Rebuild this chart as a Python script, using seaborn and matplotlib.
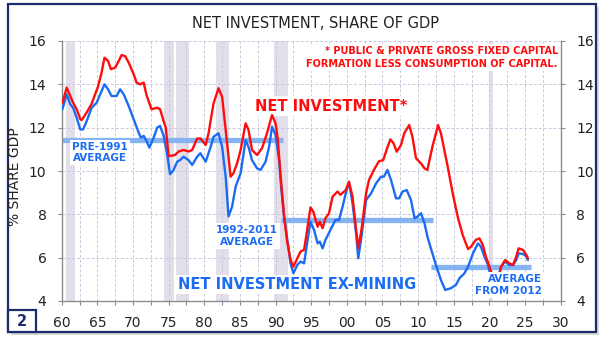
import matplotlib
matplotlib.use("Agg")
import matplotlib.pyplot as plt
from matplotlib.patches import Rectangle
from matplotlib.ticker import MultipleLocator, FixedLocator
import seaborn as sns
import pandas as pd

# ---------------- data ----------------
red_years = [1960.1, 1960.7, 1961.2, 1961.6, 1962.1, 1962.6, 1962.8, 1963.5, 1964.2, 1964.7,
             1965.1, 1965.6, 1966.0, 1966.5, 1966.9, 1967.5, 1968.0, 1968.4, 1968.9, 1969.4,
             1970.1, 1970.5, 1971.0, 1971.5, 1971.9, 1972.6, 1973.4, 1973.8, 1974.3, 1974.6,
             1975.0, 1975.9, 1976.4, 1977.1, 1977.8, 1978.3, 1979.0, 1979.45, 1980.2, 1980.6,
             1981.3, 1982.0, 1982.5, 1983.0, 1983.7, 1984.1, 1984.6, 1985.1, 1985.8, 1986.2,
             1986.7, 1987.4, 1988.1, 1988.8, 1989.5, 1990.0, 1990.3, 1990.7, 1991.2, 1991.6,
             1992.1, 1992.5, 1993.05, 1993.5, 1994.0, 1994.5, 1994.9, 1995.3, 1995.9, 1996.2,
             1996.6, 1997.0, 1997.5, 1998.0, 1998.7, 1999.1, 1999.85, 2000.3, 2000.8, 2001.3,
             2001.6, 2002.05, 2002.7, 2003.1, 2003.8, 2004.5, 2005.1, 2005.6, 2006.1, 2006.55,
             2007.0, 2007.6, 2008.05, 2008.75, 2009.2, 2009.7, 2010.4, 2010.9, 2011.3, 2012.0,
             2012.8, 2013.2, 2014.15, 2014.85, 2015.55, 2016.25, 2017.0, 2017.4, 2018.1, 2018.6,
             2019.07, 2019.5, 2020.0, 2020.5, 2020.8, 2021.2, 2021.65, 2022.2, 2022.8, 2023.3,
             2023.76, 2024.1, 2024.7, 2025.2, 2025.4]
red_vals = [13.15, 13.85, 13.46, 13.15, 12.85, 12.4, 12.35, 12.7, 13.1, 13.55,
            13.9, 14.55, 15.23, 15.08, 14.7, 14.77, 15.08, 15.35, 15.3, 15.0,
            14.46, 14.08, 14.0, 14.08, 13.5, 12.85, 12.92, 12.85, 12.3, 12.0,
            10.68, 10.74, 10.9, 10.97, 10.9, 10.97, 11.5, 11.5, 11.2, 11.74,
            13.12, 13.82, 13.43, 11.9, 9.74, 9.9, 10.35, 10.97, 12.2, 11.9,
            10.97, 10.74, 11.05, 11.74, 12.58, 12.2, 11.5, 9.8, 7.9, 6.8,
            5.9, 5.58, 5.97, 6.28, 6.36, 7.43, 8.32, 8.12, 7.43, 7.66,
            7.36, 7.82, 8.05, 8.82, 9.05, 8.9, 9.12, 9.5, 8.82, 7.28,
            6.43, 7.28, 8.97, 9.58, 10.05, 10.45, 10.5, 11.0, 11.46, 11.28,
            10.89, 11.2, 11.74, 12.12, 11.58, 10.59, 10.35, 10.12, 10.05, 11.12,
            12.12, 11.74, 10.2, 8.97, 7.89, 7.05, 6.4, 6.5, 6.82, 6.89,
            6.59, 6.05, 5.59, 5.05, 4.68, 4.97, 5.59, 5.89, 5.74, 5.66,
            6.05, 6.43, 6.36, 6.12, 5.97]

blue_years = [1960.1, 1960.7, 1961.2, 1961.6, 1962.1, 1962.6, 1963.0, 1963.5, 1964.2, 1964.9,
              1965.4, 1966.0, 1966.5, 1967.0, 1967.7, 1968.2, 1968.7, 1969.4, 1970.1, 1970.8,
              1971.1, 1971.5, 1971.9, 1972.3, 1972.9, 1973.4, 1973.8, 1974.3, 1974.8, 1975.2,
              1975.7, 1976.2, 1976.6, 1977.1, 1977.8, 1978.3, 1979.0, 1979.45, 1980.2, 1980.9,
              1981.3, 1982.0, 1982.5, 1983.0, 1983.4, 1983.9, 1984.4, 1985.1, 1985.8, 1986.2,
              1986.7, 1987.4, 1987.9, 1988.6, 1989.1, 1989.5, 1990.0, 1990.5, 1990.8, 1991.2,
              1991.6, 1992.1, 1992.5, 1993.05, 1993.5, 1994.0, 1994.5, 1994.9, 1995.4, 1995.9,
              1996.2, 1996.6, 1997.0, 1997.7, 1998.4, 1998.9, 1999.4, 1999.85, 2000.3, 2000.8,
              2001.3, 2001.6, 2002.05, 2002.7, 2003.4, 2004.1, 2004.8, 2005.2, 2005.7, 2006.2,
              2006.9, 2007.35, 2007.8, 2008.4, 2009.0, 2009.5, 2009.9, 2010.4, 2010.9, 2011.3,
              2012.0, 2012.5, 2013.2, 2013.8, 2014.6, 2015.3, 2015.8, 2016.5, 2017.0, 2017.7,
              2018.4, 2018.8, 2019.3, 2019.8, 2020.2, 2020.7, 2021.2, 2021.65, 2022.2, 2022.8,
              2023.3, 2023.76, 2024.1, 2024.7, 2025.2, 2025.4]
blue_vals = [12.85, 13.54, 13.08, 12.92, 12.46, 11.92, 11.92, 12.3, 12.92, 13.15,
             13.54, 14.0, 13.77, 13.46, 13.46, 13.77, 13.54, 13.0, 12.38, 11.77,
             11.54, 11.62, 11.38, 11.08, 11.54, 12.0, 12.08, 11.62, 10.77, 9.85,
             10.05, 10.43, 10.5, 10.66, 10.5, 10.28, 10.66, 10.82, 10.43, 11.12,
             11.58, 11.74, 11.12, 9.74, 7.9, 8.35, 9.28, 9.9, 11.43, 11.12,
             10.5, 10.12, 10.05, 10.43, 11.12, 12.05, 11.66, 10.5, 9.2, 7.9,
             6.97, 5.74, 5.28, 5.66, 5.82, 5.74, 6.82, 7.66, 7.28, 6.66,
             6.74, 6.43, 6.82, 7.28, 7.74, 7.74, 8.35, 8.97, 9.5, 8.5,
             7.12, 5.97, 6.97, 8.66, 8.97, 9.43, 9.74, 9.74, 10.05, 9.58,
             8.74, 8.74, 9.05, 9.12, 8.66, 7.82, 7.89, 8.05, 7.58, 6.97,
             6.2, 5.66, 4.97, 4.51, 4.59, 4.74, 5.05, 5.28, 5.59, 6.2,
             6.66, 6.51, 6.05, 5.66, 5.12, 4.74, 5.05, 5.59, 5.82, 5.66,
             5.66, 5.89, 6.2, 6.17, 6.05, 5.89]

avg_start = [1960.0, 1990.7, 2011.8]
avg_end = [1991.1, 2012.1, 2025.8]
avg_vals = [11.45, 7.75, 5.58]

recession_start = [1960.6, 1974.3, 1976.05, 1981.65, 1989.85, 2020.0]
recession_end = [1961.85, 1975.7, 1977.9, 1983.4, 1991.7, 2020.5]

x_ticks = [1960, 1965, 1970, 1975, 1980, 1985, 1990, 1995, 2000, 2005, 2010, 2015, 2020, 2025, 2030]
x_labels = ["60", "65", "70", "75", "80", "85", "90", "95", "00", "05", "10", "15", "20", "25", "30"]
y_ticks = [4, 6, 8, 10, 12, 14, 16]

red_df = pd.DataFrame({"year": red_years, "value": red_vals})
blue_df = pd.DataFrame({"year": blue_years, "value": blue_vals})

# ---------------- style ----------------
sns.set_theme(style="white")
plt.rcParams["font.family"] = ["DejaVu Sans"]

RED = "#ff0d0d"
BLUE = "#1c6cf2"
AVG = "#86b3f2"
BAND = "#e3dfea"
GRID = "#cac7de"
NAVY = "#1d2c6e"
TXT = "#222222"

fig = plt.figure(figsize=(6.02, 3.38), dpi=100)
fig.patch.set_facecolor("white")
ax = fig.add_axes([61.7 / 602, 1 - 301 / 338, (560.7 - 61.7) / 602, (301 - 41) / 338])
ax.set_facecolor("white")

# recession bands
for s, e in zip(recession_start, recession_end):
    ax.axvspan(s, e, color=BAND, lw=0, zorder=0.5)

# grid
ax.set_xlim(1960, 2030)
ax.set_ylim(4, 16)
ax.xaxis.set_major_locator(FixedLocator(x_ticks))
ax.xaxis.set_minor_locator(MultipleLocator(2.5))
ax.set_xticks(x_ticks)
ax.set_xticklabels(x_labels)
ax.set_yticks(y_ticks)
ax.grid(False)
for gx in [1960 + 2.5 * i for i in range(1, 28)]:
    ax.axvline(gx, color=GRID, lw=0.7, ls=(0, (3, 2)), zorder=0.8)
for gy in y_ticks[1:]:
    ax.axhline(gy, color=GRID, lw=0.7, ls=(0, (3, 2)), zorder=0.8)

# average lines
ax.hlines(avg_vals, avg_start, avg_end, colors=AVG, lw=3.8, zorder=2, capstyle="butt")

# series
sns.lineplot(data=red_df, x="year", y="value", color=RED, lw=1.7, ax=ax, zorder=4)
sns.lineplot(data=blue_df, x="year", y="value", color=BLUE, lw=1.7, ax=ax, zorder=3)

ax.set_xlabel("")
ax.set_ylabel("% SHARE GDP", fontsize=10, color=TXT, labelpad=4)
ax.yaxis.set_label_coords(-0.079, 0.48)

# spines/ticks
for side in ["left", "right", "bottom"]:
    ax.spines[side].set_visible(True)
    ax.spines[side].set_color("#8c8c8c")
    ax.spines[side].set_linewidth(1.0)
ax.spines["top"].set_visible(False)
ax.tick_params(axis="both", which="both", direction="out", length=3, width=0.8,
               color="#8c8c8c", labelsize=10, labelcolor=TXT, pad=8)
ax.tick_params(axis="y", left=True, right=True, labelleft=True, labelright=True)
ax.tick_params(axis="x", which="both", bottom=True)

# title
fig.text(315 / 602, 1 - 23 / 338, "NET INVESTMENT, SHARE OF GDP", ha="center", va="center",
         fontsize=10.5, color=TXT)

box = dict(facecolor="white", edgecolor="none", pad=1.5)
ax.text(2029.6, 15.25, "* PUBLIC & PRIVATE GROSS FIXED CAPITAL\nFORMATION LESS CONSUMPTION OF CAPITAL.",
        ha="right", va="center", fontsize=7, fontweight="bold", color=RED,
        linespacing=1.35, bbox=box, zorder=2.5)
ax.text(1997.8, 13.0, "NET INVESTMENT*", ha="center", va="center", fontsize=10.5,
        fontweight="bold", color=RED, bbox=box, zorder=2.5)
ax.text(1993.05, 4.75, "NET INVESTMENT EX-MINING", ha="center", va="center", fontsize=10.5,
        fontweight="bold", color=BLUE, bbox=box, zorder=2.5)
ax.text(1965.4, 10.85, "PRE-1991\nAVERAGE", ha="center", va="center", fontsize=7.5,
        fontweight="bold", color=BLUE, linespacing=1.2, bbox=box, zorder=2.5)
ax.text(1986.0, 7.0, "1992-2011\nAVERAGE", ha="center", va="center", fontsize=7.5,
        fontweight="bold", color=BLUE, linespacing=1.2, bbox=box, zorder=2.5)
ax.text(2027.4, 4.75, "AVERAGE\nFROM 2012", ha="right", va="center", fontsize=7.5,
        fontweight="bold", color=BLUE, linespacing=1.2, bbox=box, zorder=5)

# frame, shadow and panel number
W, H = 602.0, 338.0
fig.patches.append(Rectangle((11 / W, 1 - 335 / H), (596 - 8) / W, (332 - 4) / H,
                             transform=fig.transFigure, facecolor="#d9d9d9", edgecolor="none",
                             zorder=-2))
fig.patches.append(Rectangle((8 / W, 1 - 332 / H), (596 - 8) / W, (332 - 4) / H,
                             transform=fig.transFigure, facecolor="white", edgecolor=NAVY,
                             lw=1.6, zorder=-1))
fig.patches.append(Rectangle((8 / W, 1 - 332 / H), (36 - 8) / W, (332 - 310) / H,
                             transform=fig.transFigure, facecolor="white", edgecolor=NAVY,
                             lw=1.6, zorder=1))
fig.text(22 / W, 1 - 321.5 / H, "2", ha="center", va="center", fontsize=10.5,
         fontweight="bold", color=NAVY)

fig.savefig("out.png", dpi=100, facecolor="white")
